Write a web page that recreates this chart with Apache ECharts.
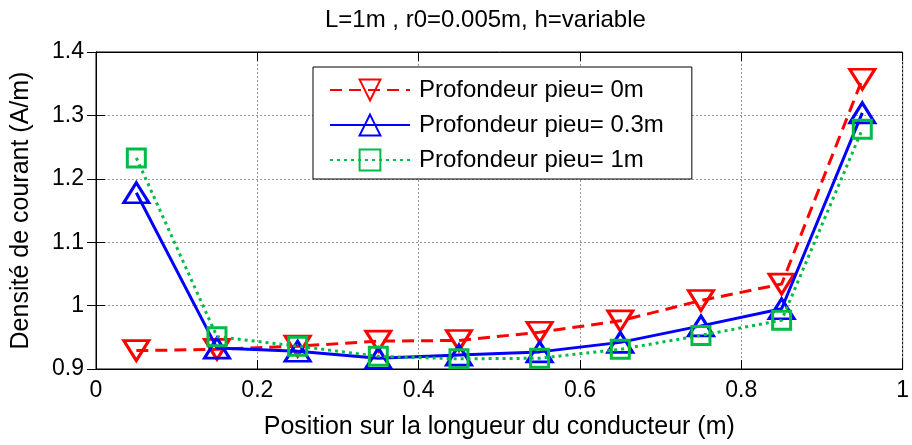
<!DOCTYPE html>
<html>
<head>
<meta charset="utf-8">
<script src="https://cdn.jsdelivr.net/npm/echarts@6/dist/echarts.min.js"></script>
<style>
  html, body { margin: 0; padding: 0; background: #fff; }
  #chart { width: 912px; height: 445px; }
</style>
</head>
<body>
<div id="chart"></div>
<script>
const positions = [0.05, 0.15, 0.25, 0.35, 0.45, 0.55, 0.65, 0.75, 0.85, 0.95]
const depth0 = [0.929, 0.931, 0.936, 0.944, 0.945, 0.958, 0.976, 1.008, 1.034, 1.357]
const depth03 = [1.178, 0.933, 0.928, 0.917, 0.922, 0.927, 0.942, 0.968, 0.995, 1.304]
const depth1 = [1.233, 0.951, 0.936, 0.920, 0.916, 0.917, 0.931, 0.953, 0.977, 1.278]
const seriesNames = ['Profondeur pieu= 0m', 'Profondeur pieu= 0.3m', 'Profondeur pieu= 1m']

const font = 'Liberation Sans, Arial, sans-serif'
const pairs = arr => positions.map((x, i) => [x, arr[i]])

let chart = echarts.init(document.getElementById('chart'))
let option = {
  animation: false,
  title: {
    text: 'L=1m , r0=0.005m, h=variable',
    left: 320,
    top: 3,
    textStyle: { fontFamily: font, fontSize: 24, fontWeight: 'normal', color: '#000' }
  },
  legend: {
    data: seriesNames,
    orient: 'vertical',
    left: 313,
    top: 67,
    itemWidth: 80,
    itemHeight: 26,
    itemGap: 11,
    padding: [11, 28, 7, 16],
    backgroundColor: '#fff',
    borderColor: '#000',
    borderWidth: 1,
    textStyle: { fontFamily: font, fontSize: 24, color: '#000', padding: [0, 0, 0, 4] }
  },
  grid: {
    left: 96,
    right: 5,
    top: 52,
    bottom: 72,
    show: true,
    borderColor: '#000',
    borderWidth: 1
  },
  xAxis: [
    {
      type: 'value',
      min: 0,
      max: 1,
      interval: 0.2,
      name: 'Position sur la longueur du conducteur (m)',
      nameLocation: 'middle',
      nameGap: 46,
      nameTextStyle: { fontFamily: font, fontSize: 25, color: '#000' },
      axisLine: { lineStyle: { color: '#000' } },
      axisTick: { inside: true, length: 9, lineStyle: { color: '#000' } },
      axisLabel: {
        fontFamily: font, fontSize: 23, color: '#000', margin: 10,
        formatter: v => (v === 0 || v === 1) ? String(v) : v.toFixed(1)
      },
      splitLine: { lineStyle: { color: '#999', type: [2, 2] } }
    },
    {
      type: 'value',
      position: 'top',
      min: 0,
      max: 1,
      interval: 0.2,
      axisLine: { lineStyle: { color: '#000' } },
      axisTick: { inside: true, length: 9, lineStyle: { color: '#000' } },
      axisLabel: { show: false },
      splitLine: { show: false }
    }
  ],
  yAxis: [
    {
      type: 'value',
      min: 0.9,
      max: 1.4,
      interval: 0.1,
      name: 'Densité de courant (A/m)',
      nameLocation: 'middle',
      nameGap: 62,
      nameTextStyle: { fontFamily: font, fontSize: 25, color: '#000' },
      axisLine: { show: true, lineStyle: { color: '#000' } },
      axisTick: { show: true, inside: true, length: 9, lineStyle: { color: '#000' } },
      axisLabel: {
        fontFamily: font, fontSize: 23, color: '#000', margin: 12,
        formatter: v => (Math.abs(v - 1) < 1e-9) ? '1' : v.toFixed(1)
      },
      splitLine: { lineStyle: { color: '#999', type: [2, 2] } }
    },
    {
      type: 'value',
      position: 'right',
      min: 0.9,
      max: 1.4,
      interval: 0.1,
      axisLine: { show: true, lineStyle: { color: '#000' } },
      axisTick: { show: true, inside: true, length: 9, lineStyle: { color: '#000' } },
      axisLabel: { show: false },
      splitLine: { show: false }
    }
  ],
  series: [
    {
      name: seriesNames[0],
      type: 'line',
      data: pairs(depth0),
      symbol: 'triangle',
      symbolRotate: 180,
      symbolSize: [25, 20],
      lineStyle: { color: '#ff0000', width: 3, type: [12, 7] },
      itemStyle: { color: 'rgba(255,255,255,0)', borderColor: '#ff0000', borderWidth: 3 },
      z: 3
    },
    {
      name: seriesNames[1],
      type: 'line',
      data: pairs(depth03),
      symbol: 'triangle',
      symbolSize: [25, 20],
      lineStyle: { color: '#0000ff', width: 3 },
      itemStyle: { color: 'rgba(255,255,255,0)', borderColor: '#0000ff', borderWidth: 3 },
      z: 4
    },
    {
      name: seriesNames[2],
      type: 'line',
      data: pairs(depth1),
      symbol: 'rect',
      symbolSize: 18,
      lineStyle: { color: '#00bb44', width: 3, type: [3, 4] },
      itemStyle: { color: 'rgba(255,255,255,0)', borderColor: '#00bb44', borderWidth: 3 },
      z: 5
    }
  ]
}
chart.setOption(option)
</script>
</body>
</html>
